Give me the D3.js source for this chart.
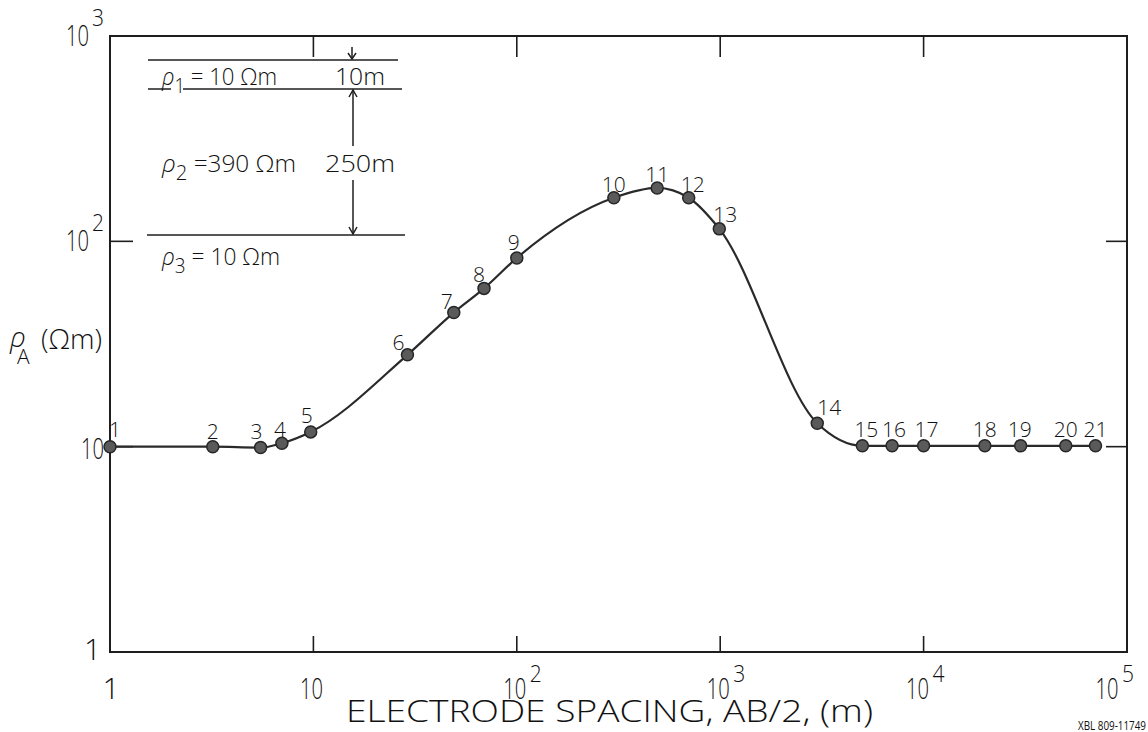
<!DOCTYPE html>
<html>
<head>
<meta charset="utf-8">
<script src="https://cdn.jsdelivr.net/npm/d3@7"></script>
<style>
  html, body { margin: 0; padding: 0; background: #fff; }
  svg { display: block; }
  text { font-family: "Open Sans", "DejaVu Sans", sans-serif; fill: #111; font-weight: 300; }
</style>
</head>
<body>
<svg id="chart" width="1148" height="732"></svg>
<script>
// ---- data ----
const pointIds = [1, 2, 3, 4, 5, 6, 7, 8, 9, 10, 11, 12, 13, 14, 15, 16, 17, 18, 19, 20, 21];
const spacing  = [1, 3.2, 5.5, 7, 9.7, 29, 49, 69, 100, 300, 490, 700, 990, 3000, 5000, 7000, 10000, 20000, 30000, 50000, 70000];
const rhoA     = [10, 10, 9.9, 10.4, 11.8, 28, 45, 59, 83, 163, 182, 163, 115, 13.0, 10.1, 10.1, 10.1, 10.1, 10.1, 10.1, 10.1];

const xTickExp = [0, 1, 2, 3, 4, 5];
const yTickExp = [0, 1, 2, 3];
const layerRho = [10, 390, 10];
const layerThickness = [10, 250];
const xTitle = "ELECTRODE SPACING, AB/2, (m)";
const figId = "XBL 809-11749";

// ---- layout ----
const svg = d3.select("#chart");
const L = 110, R = 1127, T = 36, B = 652;
const x = d3.scaleLog().domain([1, 1e5]).range([L, R]);
const y = d3.scaleLog().domain([1, 1000]).range([B, T]);
const ink = "#1e1e1e";

// frame
svg.append("rect").attr("x", L).attr("y", T).attr("width", R - L).attr("height", B - T)
  .attr("fill", "none").attr("stroke", ink).attr("stroke-width", 2);

// inner ticks
const innerX = xTickExp.slice(1, -1).map(e => Math.pow(10, e));
svg.selectAll(".xtb").data(innerX).enter().append("line")
  .attr("x1", d => x(d)).attr("x2", d => x(d)).attr("y1", B).attr("y2", B - 16)
  .attr("stroke", ink).attr("stroke-width", 1.6);
svg.selectAll(".xtt").data(innerX).enter().append("line")
  .attr("x1", d => x(d)).attr("x2", d => x(d)).attr("y1", T).attr("y2", T + 21)
  .attr("stroke", ink).attr("stroke-width", 1.6);
const innerY = [10, 100];
svg.selectAll(".ytl").data(innerY).enter().append("line")
  .attr("x1", L).attr("x2", L + 23).attr("y1", d => y(d)).attr("y2", d => y(d))
  .attr("stroke", ink).attr("stroke-width", 1.6);
svg.selectAll(".ytr").data(innerY).enter().append("line")
  .attr("x1", R).attr("x2", R - 21).attr("y1", d => y(d)).attr("y2", d => y(d))
  .attr("stroke", ink).attr("stroke-width", 1.6);

// helpers for narrow lettering
function ten(px, py, anchor) {
  return svg.append("text").attr("x", px).attr("y", py).attr("text-anchor", anchor || "middle")
    .attr("font-size", 30).attr("textLength", 23).attr("lengthAdjust", "spacingAndGlyphs").text("10");
}
function sup(px, py, s) {
  return svg.append("text").attr("x", px).attr("y", py).attr("text-anchor", "start")
    .attr("font-size", 23).attr("textLength", 12).attr("lengthAdjust", "spacingAndGlyphs").text(s);
}

// x tick labels
xTickExp.forEach(e => {
  const v = Math.pow(10, e);
  const px = x(v) - (e === 5 ? 20 : (e === 4 ? 6 : 2));
  if (e === 0) {
    svg.append("text").attr("x", px + 3).attr("y", 699).attr("text-anchor", "middle")
      .attr("font-size", 30).text("1");
  } else {
    ten(px, 699);
    if (e > 1) sup(px + 15, 682, String(e));
  }
});

// y tick labels
yTickExp.forEach(e => {
  const v = Math.pow(10, e), py = y(v);
  if (e === 0) {
    svg.append("text").attr("x", 101).attr("y", py + 8).attr("text-anchor", "end")
      .attr("font-size", 30).text("1");
  } else if (e === 1) {
    ten(104, py + 12, "end");
  } else {
    ten(89, py + 10, "end");
    sup(92, py - 10, String(e));
  }
});

// axis titles
svg.append("text").attr("x", 346).attr("y", 722).attr("font-size", 31)
  .attr("textLength", 527).attr("lengthAdjust", "spacingAndGlyphs").text(xTitle);
svg.append("text").attr("x", 1078).attr("y", 730).attr("font-size", 13).style("font-weight", 400)
  .attr("textLength", 68).attr("lengthAdjust", "spacingAndGlyphs").text(figId);

const yl = svg.append("g");
yl.append("text").attr("x", 10).attr("y", 347).attr("font-size", 28).attr("font-style", "italic").text("ρ");
yl.append("text").attr("x", 17).attr("y", 364).attr("font-size", 21).text("A");
yl.append("text").attr("x", 41).attr("y", 349).attr("font-size", 27)
  .attr("textLength", 61).attr("lengthAdjust", "spacingAndGlyphs").text("(Ωm)");

// ---- curve ----
const pts = spacing.map((s, i) => ({ id: pointIds[i], s, r: rhoA[i] }));
const line = d3.line().x(d => x(d.s)).y(d => y(d.r)).curve(d3.curveMonotoneX);
svg.append("path").datum(pts).attr("d", line)
  .attr("fill", "none").attr("stroke", "#2a2a2a").attr("stroke-width", 2.2);

svg.selectAll(".pt").data(pts).enter().append("circle")
  .attr("cx", d => x(d.s)).attr("cy", d => y(d.r)).attr("r", 6)
  .attr("fill", "#5a5a5a").attr("stroke", "#262626").attr("stroke-width", 1.5);

// point label offsets (dx, dy) relative to the marker
const labelOff = {1:[5,-10],2:[0,-8],3:[-4,-9],4:[-2,-6],5:[-4,-9],6:[-9,-5],7:[-7,-4],8:[-5,-6],9:[-3,-8],
  10:[0,-6],11:[0,-6],12:[4,-6],13:[6,-7],14:[12,-8],15:[4,-9],16:[2,-9],17:[3,-9],18:[0,-9],19:[-1,-9],20:[0,-9],21:[0,-9]};
svg.selectAll(".pl").data(pts).enter().append("text")
  .attr("x", d => x(d.s) + labelOff[d.id][0]).attr("y", d => y(d.r) + labelOff[d.id][1])
  .attr("text-anchor", "middle").attr("font-size", 21)
  .text(d => d.id);

// ---- inset: layered earth model ----
const g = svg.append("g").attr("stroke", ink).attr("stroke-width", 1.5);
g.append("line").attr("x1", 148).attr("x2", 398).attr("y1", 60).attr("y2", 60);
g.append("line").attr("x1", 148).attr("x2", 171).attr("y1", 89).attr("y2", 89);
g.append("line").attr("x1", 183).attr("x2", 402).attr("y1", 89).attr("y2", 89);
g.append("line").attr("x1", 147).attr("x2", 405).attr("y1", 235).attr("y2", 235);
// small arrow above layer 1
g.append("line").attr("x1", 352).attr("x2", 352).attr("y1", 47).attr("y2", 59);
g.append("path").attr("d", "M348,53 L352,59 L356,53").attr("fill", "none");
// thickness arrow for layer 2
g.append("line").attr("x1", 353).attr("x2", 353).attr("y1", 90).attr("y2", 146);
g.append("line").attr("x1", 353).attr("x2", 353).attr("y1", 180).attr("y2", 234);
g.append("path").attr("d", "M349,97 L353,90 L357,97").attr("fill", "none");
g.append("path").attr("d", "M349,227 L353,234 L357,227").attr("fill", "none");

function rhoLabel(px, py, sub, val, width) {
  const t = svg.append("text").attr("x", px).attr("y", py).attr("font-size", 24);
  t.append("tspan").attr("font-style", "italic").text("ρ");
  t.append("tspan").attr("dy", 8).attr("font-size", 20).text(sub);
  t.append("tspan").attr("dy", -8).text(" =" + (sub === "2" ? "" : " ") + val + " Ωm");
  t.attr("textLength", width).attr("lengthAdjust", "spacingAndGlyphs");
}
rhoLabel(162, 85, "1", layerRho[0], 115);
rhoLabel(162, 172, "2", layerRho[1], 134);
rhoLabel(162, 265, "3", layerRho[2], 118);
svg.append("text").attr("x", 360).attr("y", 85).attr("text-anchor", "middle")
  .attr("font-size", 24).attr("textLength", 50).attr("lengthAdjust", "spacingAndGlyphs")
  .text(layerThickness[0] + "m");
svg.append("text").attr("x", 360).attr("y", 172).attr("text-anchor", "middle")
  .attr("font-size", 24).attr("textLength", 70).attr("lengthAdjust", "spacingAndGlyphs")
  .text(layerThickness[1] + "m");
</script>
</body>
</html>
